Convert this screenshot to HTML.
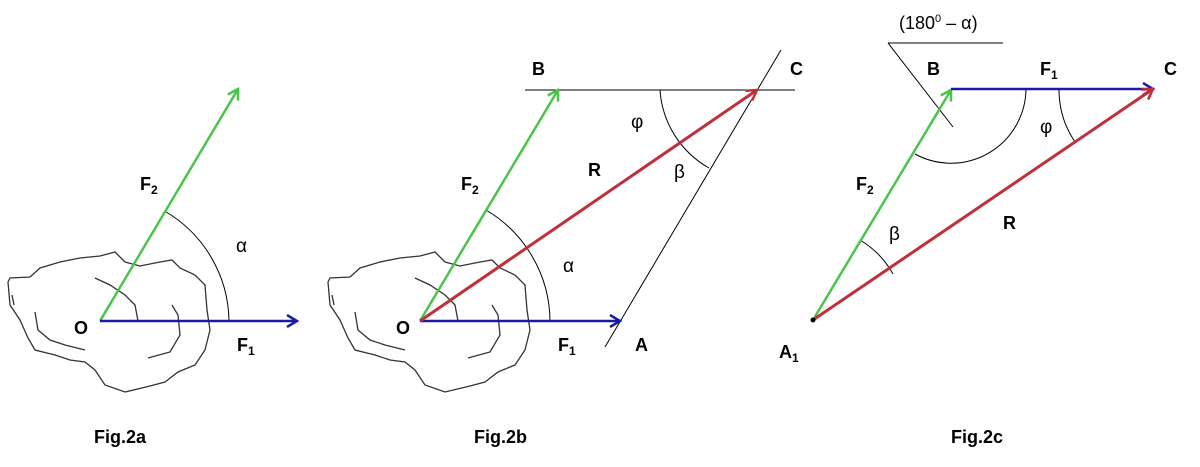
<!DOCTYPE html>
<html><head><style>
body{margin:0;background:#fff;}
svg{display:block}
text{font-family:"Liberation Sans",sans-serif;fill:#000;}
.b{font-weight:bold;font-size:18px}
.g{font-size:19px}
</style></head><body>
<svg width="1200" height="467" viewBox="0 0 1200 467" xmlns="http://www.w3.org/2000/svg">
<defs>
<marker id="ab" markerWidth="14" markerHeight="14" refX="12" refY="7" orient="auto" markerUnits="userSpaceOnUse"><path d="M2,1 L12,7 L2,13" fill="none" stroke="#1a1aa8" stroke-width="2.5"/></marker>
<marker id="ag" markerWidth="14" markerHeight="14" refX="12" refY="7" orient="auto" markerUnits="userSpaceOnUse"><path d="M2,1 L12,7 L2,13" fill="none" stroke="#4cc44c" stroke-width="2.5"/></marker>
<marker id="ar" markerWidth="14" markerHeight="14" refX="12" refY="7" orient="auto" markerUnits="userSpaceOnUse"><path d="M2,1 L12,7 L2,13" fill="none" stroke="#c0303a" stroke-width="2.5"/></marker>
<g id="blob" fill="none" stroke="#333" stroke-width="1.3">
<path d="M8,282 L10,278 L30,277 L40,268 L60,262 L80,258 L100,256 L115,252 L125,262 L140,266 L160,262 L172,260 L180,268 L195,275 L205,285 L207,310 L210,330 L205,350 L195,365 L178,372 L165,382 L150,386 L125,392 L105,385 L95,370 L85,362 L70,360 L55,355 L35,350 L28,338 L20,320 L10,305 Z"/>
<path d="M95,278 L110,285 L125,295 L135,305 L138,321"/>
<path d="M35,312 L38,330 L50,340 L65,345 L85,350"/>
<path d="M172,305 L178,315 L180,335 L170,352 L148,358"/>
<path d="M12,295 L14,305"/>
</g>
</defs>
<!-- Fig 2a -->
<use href="#blob"/>
<path d="M164.5,211 A129,129 0 0 1 229,321" fill="none" stroke="#000" stroke-width="1"/>
<line x1="100" y1="321" x2="238" y2="89" stroke="#4cc44c" stroke-width="2.5" marker-end="url(#ag)"/>
<line x1="100" y1="321" x2="297" y2="321" stroke="#1a1aa8" stroke-width="2.5" marker-end="url(#ab)"/>
<text class="b" x="74" y="334">O</text>
<text class="b" x="140" y="190">F<tspan font-size="12" dy="4">2</tspan></text>
<text class="g" x="236" y="252">α</text>
<text class="b" x="237" y="351">F<tspan font-size="12" dy="4">1</tspan></text>
<text class="b" x="94" y="443">Fig.2a</text>
<!-- Fig 2b -->
<use href="#blob" x="320"/>
<line x1="525" y1="90" x2="795" y2="90" stroke="#000" stroke-width="1"/>
<line x1="605" y1="347" x2="781" y2="50" stroke="#000" stroke-width="1"/>
<path d="M486,210 A130,130 0 0 1 550,321" fill="none" stroke="#000" stroke-width="1"/>
<path d="M660,90 A97,97 0 0 0 709,168" fill="none" stroke="#000" stroke-width="1"/>
<line x1="420" y1="321" x2="558" y2="90" stroke="#4cc44c" stroke-width="2.5" marker-end="url(#ag)"/>
<line x1="420" y1="321" x2="620" y2="321" stroke="#1a1aa8" stroke-width="2.5" marker-end="url(#ab)"/>
<line x1="420" y1="321" x2="757" y2="90" stroke="#c0303a" stroke-width="3" marker-end="url(#ar)"/>
<text class="b" x="396" y="334">O</text>
<text class="b" x="461" y="190">F<tspan font-size="12" dy="4">2</tspan></text>
<text class="g" x="563" y="272">α</text>
<text class="b" x="558" y="351">F<tspan font-size="12" dy="4">1</tspan></text>
<text class="b" x="635" y="351">A</text>
<text class="b" x="532" y="75">B</text>
<text class="b" x="790" y="75">C</text>
<text class="g" x="631" y="128">φ</text>
<text class="b" x="588" y="176">R</text>
<text class="g" x="674" y="178">β</text>
<text class="b" x="474" y="443">Fig.2b</text>
<!-- Fig 2c -->
<line x1="888" y1="43" x2="1003" y2="43" stroke="#000" stroke-width="1"/>
<line x1="888" y1="43" x2="953" y2="127" stroke="#000" stroke-width="1"/>
<path d="M1026,89 A75,75 0 0 1 915,154" fill="none" stroke="#000" stroke-width="1"/>
<path d="M1059,89 A94,94 0 0 0 1075,142" fill="none" stroke="#000" stroke-width="1"/>
<path d="M860,240 A92,92 0 0 1 893,274" fill="none" stroke="#000" stroke-width="1"/>
<line x1="813" y1="320" x2="951" y2="90" stroke="#4cc44c" stroke-width="2.5" marker-end="url(#ag)"/>
<line x1="951" y1="89" x2="1153" y2="89" stroke="#1a1aa8" stroke-width="2.5" marker-end="url(#ab)"/>
<line x1="813" y1="320" x2="1153" y2="89" stroke="#c0303a" stroke-width="3" marker-end="url(#ar)"/>
<circle cx="813" cy="320" r="2.5" fill="#000"/>
<text x="899" y="29" font-size="18">(180<tspan font-size="11" dy="-7">0</tspan><tspan dy="7"> – α)</tspan></text>
<text class="b" x="927" y="75">B</text>
<text class="b" x="1040" y="75">F<tspan font-size="12" dy="4">1</tspan></text>
<text class="b" x="1164" y="75">C</text>
<text class="g" x="1040" y="133">φ</text>
<text class="b" x="856" y="190">F<tspan font-size="12" dy="4">2</tspan></text>
<text class="g" x="889" y="240">β</text>
<text class="b" x="1003" y="229">R</text>
<text class="b" x="779" y="358">A<tspan font-size="12" dy="4">1</tspan></text>
<text class="b" x="951" y="443">Fig.2c</text>
</svg>
</body></html>
